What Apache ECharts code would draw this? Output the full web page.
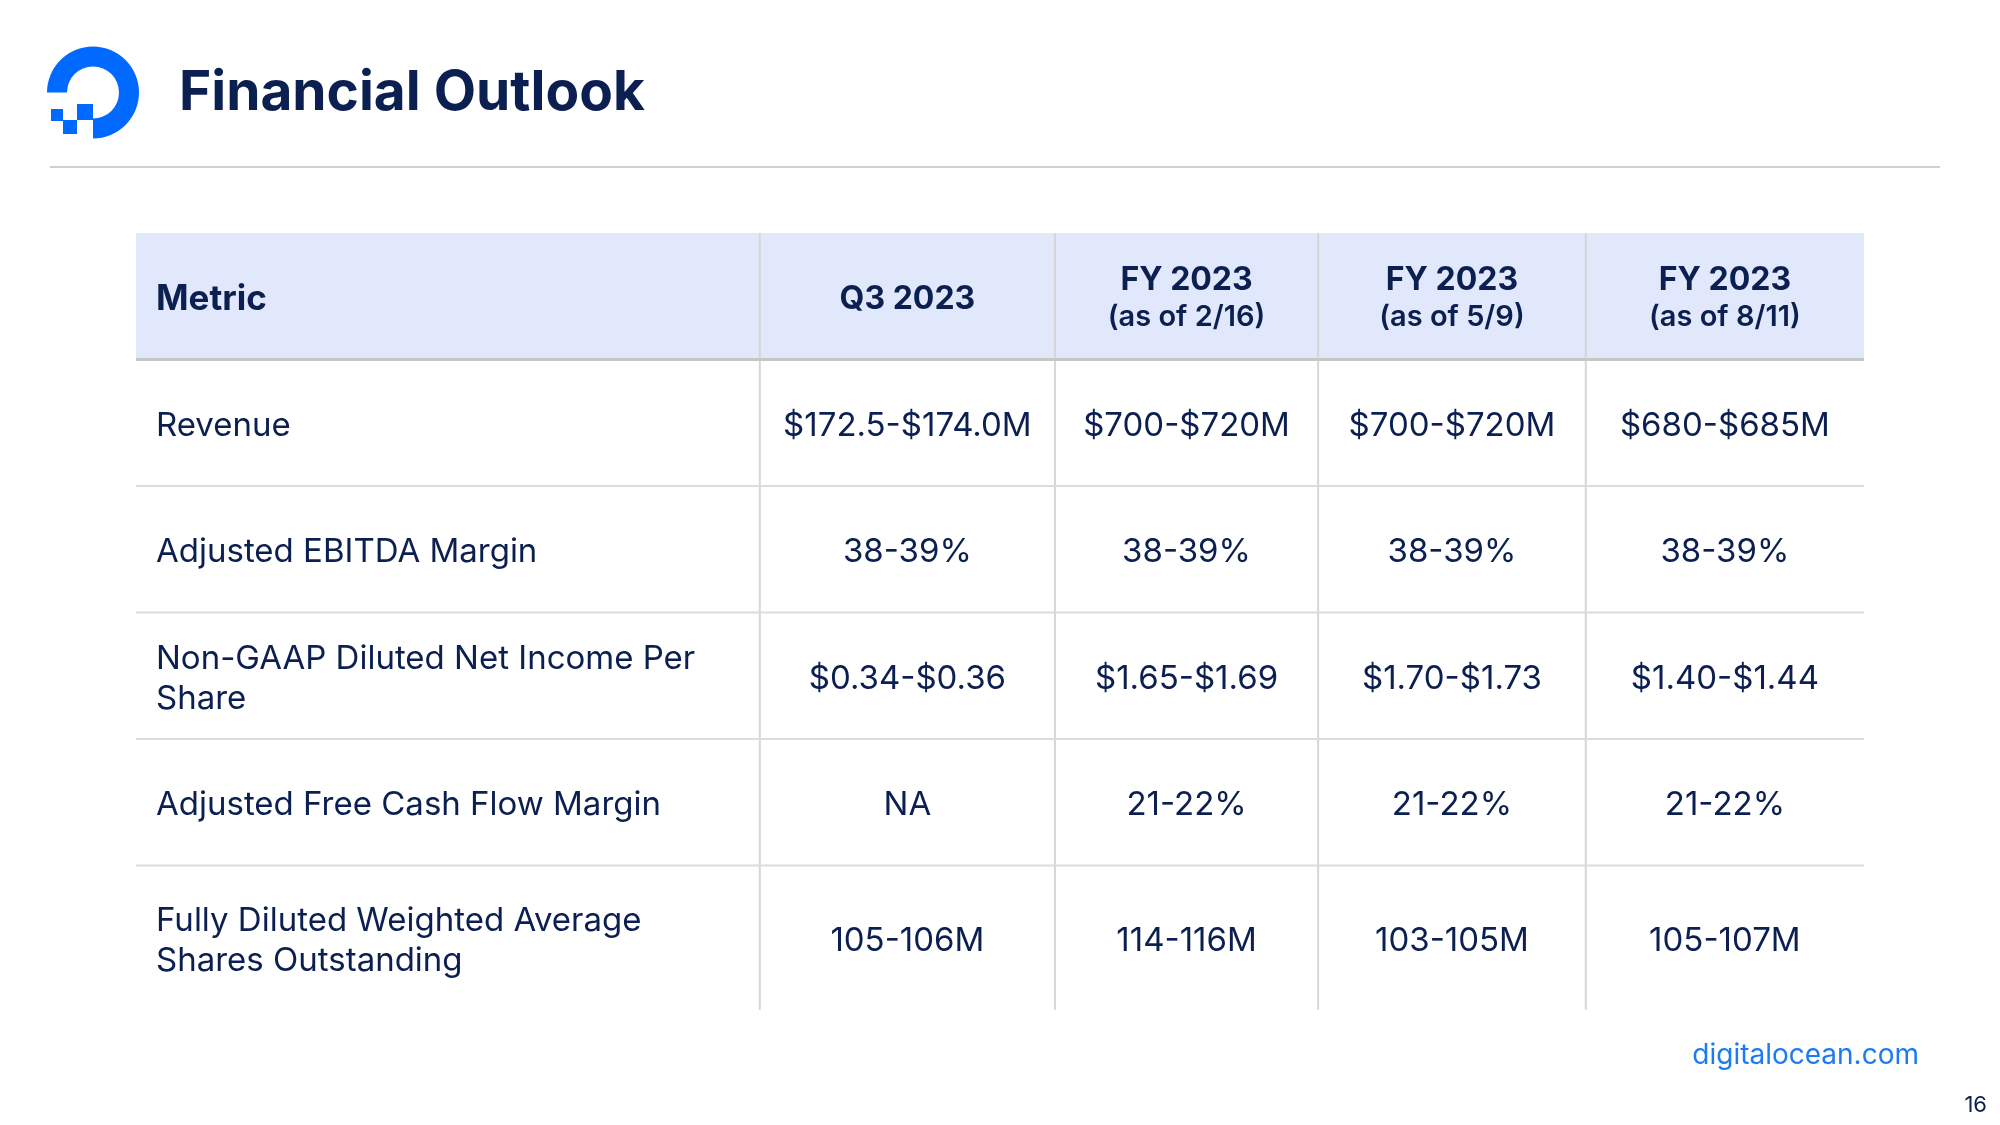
<!DOCTYPE html>
<html>
<head>
<meta charset="utf-8">
<script src="https://cdn.jsdelivr.net/npm/echarts@6/dist/echarts.min.js"></script>
<style>
html, body { margin: 0; padding: 0; background: #ffffff; }
#chart { width: 2000px; height: 1125px; }
</style>
</head>
<body>
<div id="chart"></div>
<script>
// ---------- data ----------
const pageTitle = 'Financial Outlook';
const headerLabel = 'Metric';
const columnTitles = ['Q3 2023', 'FY 2023', 'FY 2023', 'FY 2023'];
const columnSubtitles = ['', '(as of 2/16)', '(as of 5/9)', '(as of 8/11)'];
const metrics = [
  'Revenue',
  'Adjusted EBITDA Margin',
  'Non-GAAP Diluted Net Income Per Share',
  'Adjusted Free Cash Flow Margin',
  'Fully Diluted Weighted Average Shares Outstanding'
];
const q3_2023      = ['$172.5-$174.0M', '38-39%', '$0.34-$0.36', 'NA',     '105-106M'];
const fy2023_feb16 = ['$700-$720M',     '38-39%', '$1.65-$1.69', '21-22%', '114-116M'];
const fy2023_may9  = ['$700-$720M',     '38-39%', '$1.70-$1.73', '21-22%', '103-105M'];
const fy2023_aug11 = ['$680-$685M',     '38-39%', '$1.40-$1.44', '21-22%', '105-107M'];
const footerSite = 'digitalocean.com';
const pageNumber = '16';

// ---------- layout / style ----------
const NAVY = '#0b1f50';
const BLUE = '#0069ff';
const HEADER_BG = '#e1e8fb';
const FONT = 'Inter, "Noto Sans", sans-serif';
const COL_EDGES = [0, 36.1, 53.18, 68.41, 83.9, 100]; // column boundaries, % of table width
const LAST_ROW_STRETCH = 1.14;
const TEXT_DY = 3;

const valueColumns = [q3_2023, fy2023_feb16, fy2023_may9, fy2023_aug11];
const rowKeys = ['header'].concat(metrics);
const nCols = COL_EDGES.length - 1;

const cells = [];
for (let r = 0; r < rowKeys.length; r++) {
  for (let c = 0; c < nCols; c++) {
    cells.push({ value: [c, r] });
  }
}

function renderCell(params, api) {
  const c = api.value(0);
  const r = api.value(1);
  const nRows = rowKeys.length;
  const x0 = api.coord([COL_EDGES[c], r])[0];
  const x1 = api.coord([COL_EDGES[c + 1], r])[0];
  const yc = api.coord([0, r])[1];
  let h = api.size([0, 1])[1];
  const y0 = yc - h / 2;
  if (r === nRows - 1) h *= LAST_ROW_STRETCH;
  const cy = y0 + h / 2 + TEXT_DY;
  const children = [];

  if (r === 0) {
    children.push({ type: 'rect', shape: { x: x0, y: y0, width: x1 - x0, height: h },
      style: { fill: HEADER_BG }, z2: 0 });
  }
  if (c < nCols - 1) {
    children.push({ type: 'line', shape: { x1: x1, y1: y0, x2: x1, y2: y0 + h },
      style: { stroke: '#d6d6d6', lineWidth: 2 }, z2: 5 });
  }
  if (r < nRows - 1) {
    children.push({ type: 'line', shape: { x1: x0, y1: y0 + h, x2: x1, y2: y0 + h },
      style: { stroke: r === 0 ? '#c6c6c6' : '#dcdcdc', lineWidth: r === 0 ? 3 : 2 }, z2: 6 });
  }

  const padLeft = 20;
  if (r === 0) {
    if (c === 0) {
      children.push({ type: 'text', z2: 10, style: {
        text: headerLabel, x: x0 + padLeft, y: cy, align: 'left', verticalAlign: 'middle',
        fill: NAVY, fontSize: 35, fontWeight: 700, fontFamily: FONT } });
    } else {
      const t = columnTitles[c - 1];
      const s = columnSubtitles[c - 1];
      const text = s ? '{h|' + t + '}\n{s|' + s + '}' : '{h|' + t + '}';
      children.push({ type: 'text', z2: 10, style: {
        text: text, x: (x0 + x1) / 2, y: cy, align: 'center', verticalAlign: 'middle',
        fill: NAVY, fontFamily: FONT,
        rich: {
          h: { fontSize: 32, fontWeight: 700, fontFamily: FONT, fill: NAVY, lineHeight: 37 },
          s: { fontSize: 29, fontWeight: 600, fontFamily: FONT, fill: NAVY, lineHeight: 37 }
        } } });
    }
  } else {
    if (c === 0) {
      children.push({ type: 'text', z2: 10, style: {
        text: metrics[r - 1], x: x0 + padLeft, y: cy, align: 'left', verticalAlign: 'middle',
        fill: NAVY, fontSize: 33, fontWeight: 400, fontFamily: FONT,
        width: 570, overflow: 'break', lineHeight: 40 } });
    } else {
      children.push({ type: 'text', z2: 10, style: {
        text: valueColumns[c - 1][r - 1], x: (x0 + x1) / 2, y: cy, align: 'center', verticalAlign: 'middle',
        fill: NAVY, fontSize: 33, fontWeight: 400, fontFamily: FONT } });
    }
  }
  return { type: 'group', children: children };
}

const chart = echarts.init(document.getElementById('chart'), null, { renderer: 'canvas' });
chart.setOption({
  backgroundColor: '#ffffff',
  animation: false,
  title: {
    text: pageTitle, left: 179, top: 65, padding: 0,
    textStyle: { fontFamily: FONT, fontSize: 55, fontWeight: 700, color: NAVY, lineHeight: 56 }
  },
  grid: { left: 136, right: 136, top: 233, height: 759 },
  xAxis: { type: 'value', min: 0, max: 100, show: false },
  yAxis: { type: 'category', data: rowKeys, inverse: true, show: false },
  series: [{
    type: 'custom',
    renderItem: renderCell,
    data: cells,
    silent: true,
    clip: false
  }],
  graphic: [
    { type: 'sector', shape: { cx: 93, cy: 92.5, r: 46, r0: 26, startAngle: Math.PI, endAngle: Math.PI * 2.5, clockwise: true },
      style: { fill: BLUE }, silent: true },
    { type: 'rect', shape: { x: 77, y: 104, width: 16, height: 16 }, style: { fill: BLUE }, silent: true },
    { type: 'rect', shape: { x: 63, y: 120, width: 14, height: 14 }, style: { fill: BLUE }, silent: true },
    { type: 'rect', shape: { x: 51, y: 109, width: 12, height: 12 }, style: { fill: BLUE }, silent: true },
    { type: 'line', shape: { x1: 50, y1: 167, x2: 1940, y2: 167 }, style: { stroke: '#cfcfcf', lineWidth: 2 }, silent: true },
    { type: 'text', style: { text: footerSite, x: 1919, y: 1056, align: 'right', verticalAlign: 'middle',
        fill: '#1d7bf2', fontSize: 28, fontFamily: FONT }, silent: true },
    { type: 'text', style: { text: pageNumber, x: 1987, y: 1105, align: 'right', verticalAlign: 'middle',
        fill: NAVY, fontSize: 22, fontFamily: FONT }, silent: true }
  ]
});
</script>
</body>
</html>
